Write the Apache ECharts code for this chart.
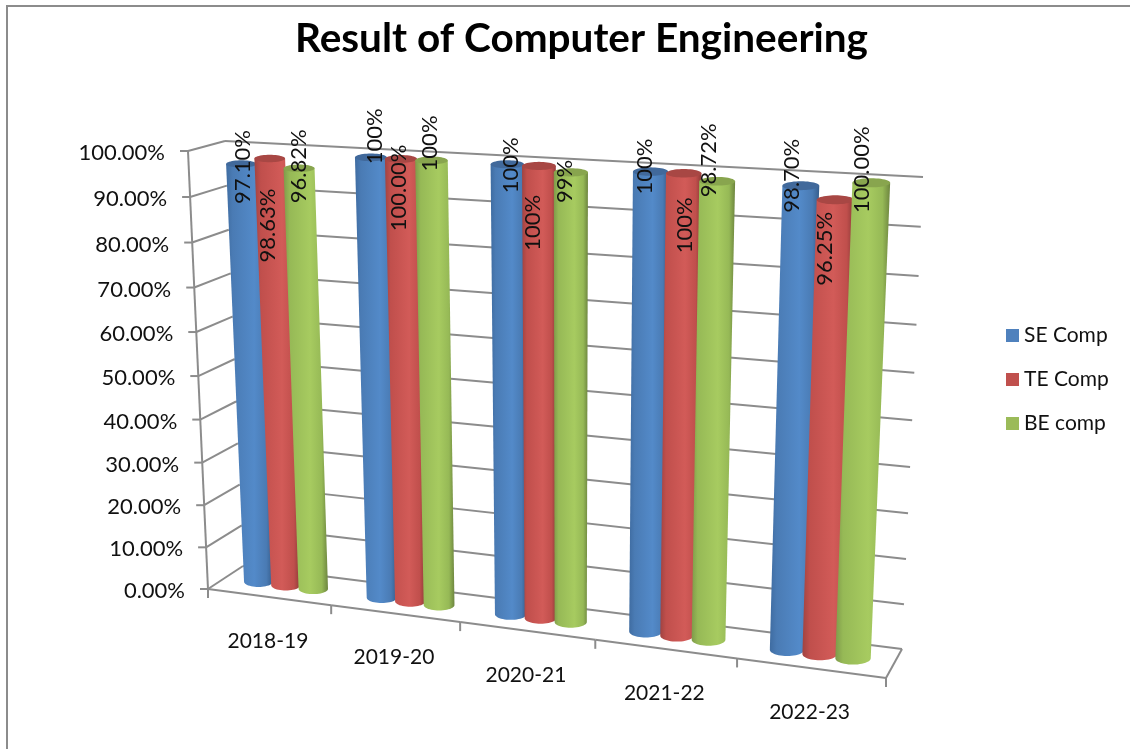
<!DOCTYPE html>
<html>
<head>
<meta charset="utf-8">
<title>Result of Computer Engineering</title>
<script src="https://cdn.jsdelivr.net/npm/echarts@6/dist/echarts.min.js"></script>
<style>
  html, body { margin: 0; padding: 0; background: #fff; }
  #main { width: 1130px; height: 749px; }
</style>
</head>
<body>
<div id="main"></div>
<script>
var years = ['2018-19', '2019-20', '2020-21', '2021-22', '2022-23'];
var seValues = [97.10, 100, 100, 100, 98.70];
var teValues = [98.63, 100, 100, 100, 96.25];
var beValues = [96.82, 100, 99, 98.72, 100];
var seLabels = ['97.10%', '100%', '100%', '100%', '98.70%'];
var teLabels = ['98.63%', '100.00%', '100%', '100%', '96.25%'];
var beLabels = ['96.82%', '100%', '99%', '98.72%', '100.00%'];
var yTicks = [0, 10, 20, 30, 40, 50, 60, 70, 80, 90, 100];
var yTickLabels = ['0.00%', '10.00%', '20.00%', '30.00%', '40.00%', '50.00%', '60.00%', '70.00%', '80.00%', '90.00%', '100.00%'];

// hand placed data labels in the original, offset from the top of each cylinder
var seNudge = [[2, 3], [4, -21], [4, 1], [-6, -5], [-9, -10]];
var teNudge = [[-2, 67], [-2, 29], [-6, 57], [1, 52], [-10, 49]];
var beNudge = [[0, -2], [-2, -17], [-6, 9], [-8, -21], [-9, -13]];

var fontName = 'Lato, "Open Sans", sans-serif';
var lineColor = '#8c8c8c';

// quad = bottom-left, bottom-right, top-right, top-left
function makePlane(q) {
  var dx1 = q[1][0] - q[2][0], dx2 = q[3][0] - q[2][0], sx = q[0][0] - q[1][0] + q[2][0] - q[3][0];
  var dy1 = q[1][1] - q[2][1], dy2 = q[3][1] - q[2][1], sy = q[0][1] - q[1][1] + q[2][1] - q[3][1];
  var den = dx1 * dy2 - dx2 * dy1;
  var g = (sx * dy2 - dx2 * sy) / den;
  var h = (dx1 * sy - sx * dy1) / den;
  var a = q[1][0] - q[0][0] + g * q[1][0], b = q[3][0] - q[0][0] + h * q[3][0], c = q[0][0];
  var d = q[1][1] - q[0][1] + g * q[1][1], e = q[3][1] - q[0][1] + h * q[3][1], f = q[0][1];
  return function (u, v) {
    var w = g * u + h * v + 1;
    return [(a * u + b * v + c) / w, (d * u + e * v + f) / w];
  };
}

var frontPlane = makePlane([[208, 589], [886, 678], [907, 187], [188, 151]]);
var backPlane = makePlane([[243, 566], [902, 649], [923, 177], [225, 141]]);
var barPlane = makePlane([[225.5, 577.5], [894, 663.5], [915, 185], [206, 149]]);

var barShare = 0.225;
var barFat = 1.06;
var topFlat = 0.24;
var baseFlat = 0.36;

function toUnit(params, api, cat, val) {
  var p = api.coord([cat, val]);
  var r = params.coordSys;
  return [(p[0] - r.x) / r.width, 1 - (p[1] - r.y) / r.height];
}

function cylinder(slot, colors, labels, nudge, order) {
  return function (params, api) {
    var i = api.value(0), val = api.value(1);
    var top = toUnit(params, api, i, val);
    var base = toUnit(params, api, i, 0);
    var band = api.size([1, 0])[0] / params.coordSys.width;
    var du = band * barShare;
    var uc = top[0] + slot * du;
    var tc = barPlane(uc, top[1]), tr = barPlane(uc + du * barFat / 2, top[1]);
    var bc = barPlane(uc, base[1]), br = barPlane(uc + du * barFat / 2, base[1]);
    var rxT = tr[0] - tc[0], rxB = br[0] - bc[0];
    var ryT = rxT * topFlat, ryB = rxB * baseFlat;
    var body = [[tc[0] - rxT, tc[1]], [tc[0] + rxT, tc[1]]];
    var cap = [];
    var k;
    for (k = 0; k <= 24; k++) {
      var t = Math.PI * k / 24;
      body.push([bc[0] + rxB * Math.cos(t), bc[1] + ryB * Math.sin(t)]);
    }
    for (k = 0; k < 48; k++) {
      var s = 2 * Math.PI * k / 48;
      cap.push([tc[0] + rxT * Math.cos(s), tc[1] + ryT * Math.sin(s)]);
    }
    return {
      type: 'group',
      children: [
        {
          type: 'polygon',
          z2: order,
          shape: { points: body },
          style: {
            fill: new echarts.graphic.LinearGradient(0, 0, 1, 0, [
              { offset: 0, color: colors[0] },
              { offset: 0.14, color: colors[1] },
              { offset: 0.6, color: colors[2] },
              { offset: 0.86, color: colors[1] },
              { offset: 1, color: colors[3] }
            ])
          }
        },
        {
          type: 'polygon',
          z2: order + 1,
          shape: { points: cap },
          style: { fill: colors[4] }
        },
        {
          type: 'text',
          z2: 50,
          x: tc[0] + nudge[i][0],
          y: tc[1] + nudge[i][1],
          rotation: Math.PI / 2,
          style: {
            text: labels[i],
            font: '22px ' + fontName,
            fill: '#111',
            align: 'center',
            verticalAlign: 'middle'
          }
        }
      ]
    };
  };
}

function segment(a, b) {
  return {
    type: 'line',
    shape: { x1: a[0], y1: a[1], x2: b[0], y2: b[1] },
    style: { stroke: lineColor, lineWidth: 2 }
  };
}

// back wall and side wall lines, one data item per value tick
function wallLines(params, api) {
  var i = params.dataIndex;
  var v = toUnit(params, api, 0, api.value(0))[1];
  var front = frontPlane(0, v);
  var kids = [
    segment(backPlane(0, v), backPlane(1, v)),
    segment(front, backPlane(0, v)),
    segment(front, [front[0] - 8, front[1]]),
    {
      type: 'text',
      x: front[0] - 23,
      y: front[1] + 2,
      style: {
        text: yTickLabels[i],
        font: '22px ' + fontName,
        fill: '#111',
        align: 'right',
        verticalAlign: 'middle'
      }
    }
  ];
  if (i > 0) {
    var prev = toUnit(params, api, 0, yTicks[i - 1])[1];
    kids.push(segment(frontPlane(0, prev), front));
  }
  return { type: 'group', children: kids };
}

// floor edges and category labels, one data item per category
function floorLines(params, api) {
  var i = api.value(0);
  var mid = toUnit(params, api, i, 0);
  var band = api.size([1, 0])[0] / params.coordSys.width;
  var end = mid[0] + band / 2;
  var tick = frontPlane(end, 0);
  var centre = frontPlane(mid[0], 0);
  var kids = [
    segment(frontPlane(mid[0] - band / 2, 0), tick),
    segment(tick, [tick[0], tick[1] + 9]),
    {
      type: 'text',
      x: centre[0] - 1,
      y: centre[1] + 44,
      style: {
        text: years[i],
        font: '21px ' + fontName,
        fill: '#111',
        align: 'center',
        verticalAlign: 'middle'
      }
    }
  ];
  if (i === 0) {
    var start = frontPlane(0, 0);
    kids.push(segment(start, [start[0], start[1] + 9]));
  }
  if (i === years.length - 1) {
    kids.push(segment(tick, backPlane(1, 0)));
  }
  return { type: 'group', children: kids };
}

function pairs(values) {
  return values.map(function (v, i) { return [i, v]; });
}

var option = {
  backgroundColor: '#fff',
  animation: false,
  title: {
    text: 'Result of Computer Engineering',
    left: 290,
    top: 13,
    textStyle: { fontFamily: fontName, fontSize: 40.5, fontWeight: 'bold', color: '#000' }
  },
  legend: {
    orient: 'vertical',
    left: 1006,
    top: 325,
    padding: 0,
    itemWidth: 13,
    itemHeight: 13,
    itemGap: 23,
    icon: 'rect',
    selectedMode: false,
    data: ['SE Comp', 'TE Comp', 'BE comp'],
    textStyle: { fontFamily: fontName, fontSize: 21, color: '#111' }
  },
  grid: { left: 0, right: 0, top: 0, bottom: 0 },
  xAxis: { type: 'category', data: years, show: false },
  yAxis: { type: 'value', min: 0, max: 100, interval: 10, show: false },
  graphic: [{
    type: 'rect',
    silent: true,
    shape: { x: 7, y: 6, width: 1300, height: 900 },
    style: { fill: 'none', stroke: lineColor, lineWidth: 2 }
  }],
  series: [
    {
      type: 'custom',
      name: 'walls',
      z: 1,
      silent: true,
      renderItem: wallLines,
      encode: { y: 0 },
      data: yTicks.map(function (t) { return [t]; })
    },
    {
      type: 'custom',
      name: 'floor',
      z: 1,
      silent: true,
      renderItem: floorLines,
      encode: { x: 0 },
      data: years.map(function (y, i) { return [i]; })
    },
    {
      type: 'custom',
      name: 'SE Comp',
      z: 2,
      itemStyle: { color: '#4f81bd' },
      renderItem: cylinder(-1, ['#3f6ca1', '#4a7bb4', '#538ac9', '#365e8d', '#41699b'], seLabels, seNudge, 1),
      encode: { x: 0, y: 1 },
      data: pairs(seValues)
    },
    {
      type: 'custom',
      name: 'TE Comp',
      z: 2,
      itemStyle: { color: '#c0504d' },
      renderItem: cylinder(0, ['#a04341', '#c04f4c', '#d25b58', '#8c3a38', '#a84744'], teLabels, teNudge, 3),
      encode: { x: 0, y: 1 },
      data: pairs(teValues)
    },
    {
      type: 'custom',
      name: 'BE comp',
      z: 2,
      itemStyle: { color: '#9bbb59' },
      renderItem: cylinder(1, ['#7f9a4a', '#96b956', '#a7cb60', '#6d853f', '#88a54e'], beLabels, beNudge, 5),
      encode: { x: 0, y: 1 },
      data: pairs(beValues)
    }
  ]
};

var myChart = echarts.init(document.getElementById('main'));
myChart.setOption(option);
</script>
</body>
</html>
